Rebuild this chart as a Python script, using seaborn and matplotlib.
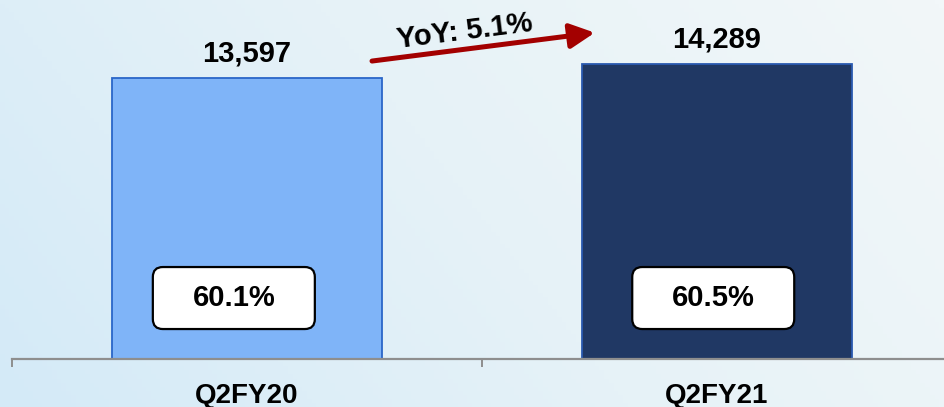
"""
Q2 revenue comparison bar chart (Q2FY20 vs Q2FY21) with YoY arrow
and margin boxes. Writes: out.png
"""
import matplotlib.pyplot as plt
import matplotlib.transforms as mtransforms
import numpy as np
import seaborn as sns
from matplotlib.colors import LinearSegmentedColormap
from matplotlib.patches import FancyBboxPatch

CATEGORIES = ["Q2FY20", "Q2FY21"]
VALUES = [13597, 14289]
MARGINS = ["60.1%", "60.5%"]
YOY_LABEL = "YoY: 5.1%"

BAR_COLORS = ["#7FB4F8", "#203864"]
BAR_EDGES = ["#2A66C8", "#2A5AB0"]
ARROW_RED = "#A30000"
AXIS_GRAY = "#8E8E8E"

FIG_W, FIG_H, DPI = 9.44, 4.07, 100
BAR_W = 0.573
YMAX = 17371
BOX_DX = [-0.028, -0.008]   # box offset from bar centre (category units)
BOX_Y = 2950                # box centre height (data units)

sns.set_theme(style="white")
plt.rcParams["font.family"] = ["Liberation Sans", "DejaVu Sans"]
plt.rcParams["text.color"] = "black"

fig = plt.figure(figsize=(FIG_W, FIG_H), dpi=DPI)

# soft blue background gradient
bg = fig.add_axes([0, 0, 1, 1], zorder=-5)
cmap_bg = LinearSegmentedColormap.from_list("bg", ["#D4EAF7", "#E6F2F7", "#F2F7F9"])
gx, gy = np.meshgrid(np.linspace(0, 1, 200), np.linspace(0, 1, 100))
bg.imshow(0.75 * gx + 0.25 * gy, cmap=cmap_bg, aspect="auto", origin="lower",
          extent=[0, 1, 0, 1])
bg.axis("off")

ax = fig.add_axes([12 / 944, 48 / 407, 940 / 944, 359 / 407])
ax.set_facecolor("none")

sns.barplot(x=CATEGORIES, y=VALUES, hue=CATEGORIES, palette=BAR_COLORS,
            width=BAR_W, legend=False, ax=ax, saturation=1)
for patch, ec in zip(ax.patches, BAR_EDGES):
    patch.set_edgecolor(ec)
    patch.set_linewidth(1.3)

ax.set_xlim(-0.5, 1.5)
ax.set_ylim(0, YMAX)

for side in ["top", "left", "right"]:
    ax.spines[side].set_visible(False)
ax.spines["bottom"].set_color(AXIS_GRAY)
ax.spines["bottom"].set_linewidth(1.6)
ax.set_yticks([])
ax.set_ylabel("")
ax.set_xticks(range(len(CATEGORIES)))
ax.set_xticklabels(CATEGORIES, fontsize=20, fontweight="bold", color="black")
ax.tick_params(axis="x", which="major", bottom=True, length=0, pad=17)
ax.set_xticks([-0.5, 0.5, 1.5], minor=True)
ax.tick_params(axis="x", which="minor", bottom=True, length=6, width=1.4,
               color=AXIS_GRAY)

# value labels above bars
for i, v in enumerate(VALUES):
    ax.annotate(f"{v:,}", (i, v), xytext=(0, 12), textcoords="offset points",
                ha="center", va="baseline", fontsize=21, fontweight="bold",
                color="black")

# margin boxes inside bars (sized in inches around a data anchor)
for i, m in enumerate(MARGINS):
    anchor = mtransforms.ScaledTranslation(i + BOX_DX[i], BOX_Y, ax.transData)
    trans = fig.dpi_scale_trans + anchor
    box = FancyBboxPatch((-0.81, -0.31), 1.62, 0.62,
                         boxstyle="round,pad=0,rounding_size=0.1",
                         transform=trans, facecolor="white",
                         edgecolor="black", linewidth=1.6, zorder=4)
    ax.add_patch(box)
    ax.text(0, 0, m, transform=trans, ha="center", va="center",
            fontsize=21, fontweight="bold", color="black", zorder=5)

# YoY arrow between the bars
ax.annotate("", xy=(0.740, VALUES[1] + 1500), xytext=(0.266, VALUES[0] + 820),
            arrowprops=dict(arrowstyle="-|>,head_length=1.5,head_width=0.75",
                            mutation_scale=10, color=ARROW_RED, lw=3.6,
                            shrinkA=0, shrinkB=0))
ax.text(0.464, VALUES[1] + 1580, YOY_LABEL, ha="center", va="center",
        rotation=7.2, rotation_mode="anchor", fontsize=21, fontweight="bold",
        color="black")

fig.savefig("out.png", dpi=DPI)
